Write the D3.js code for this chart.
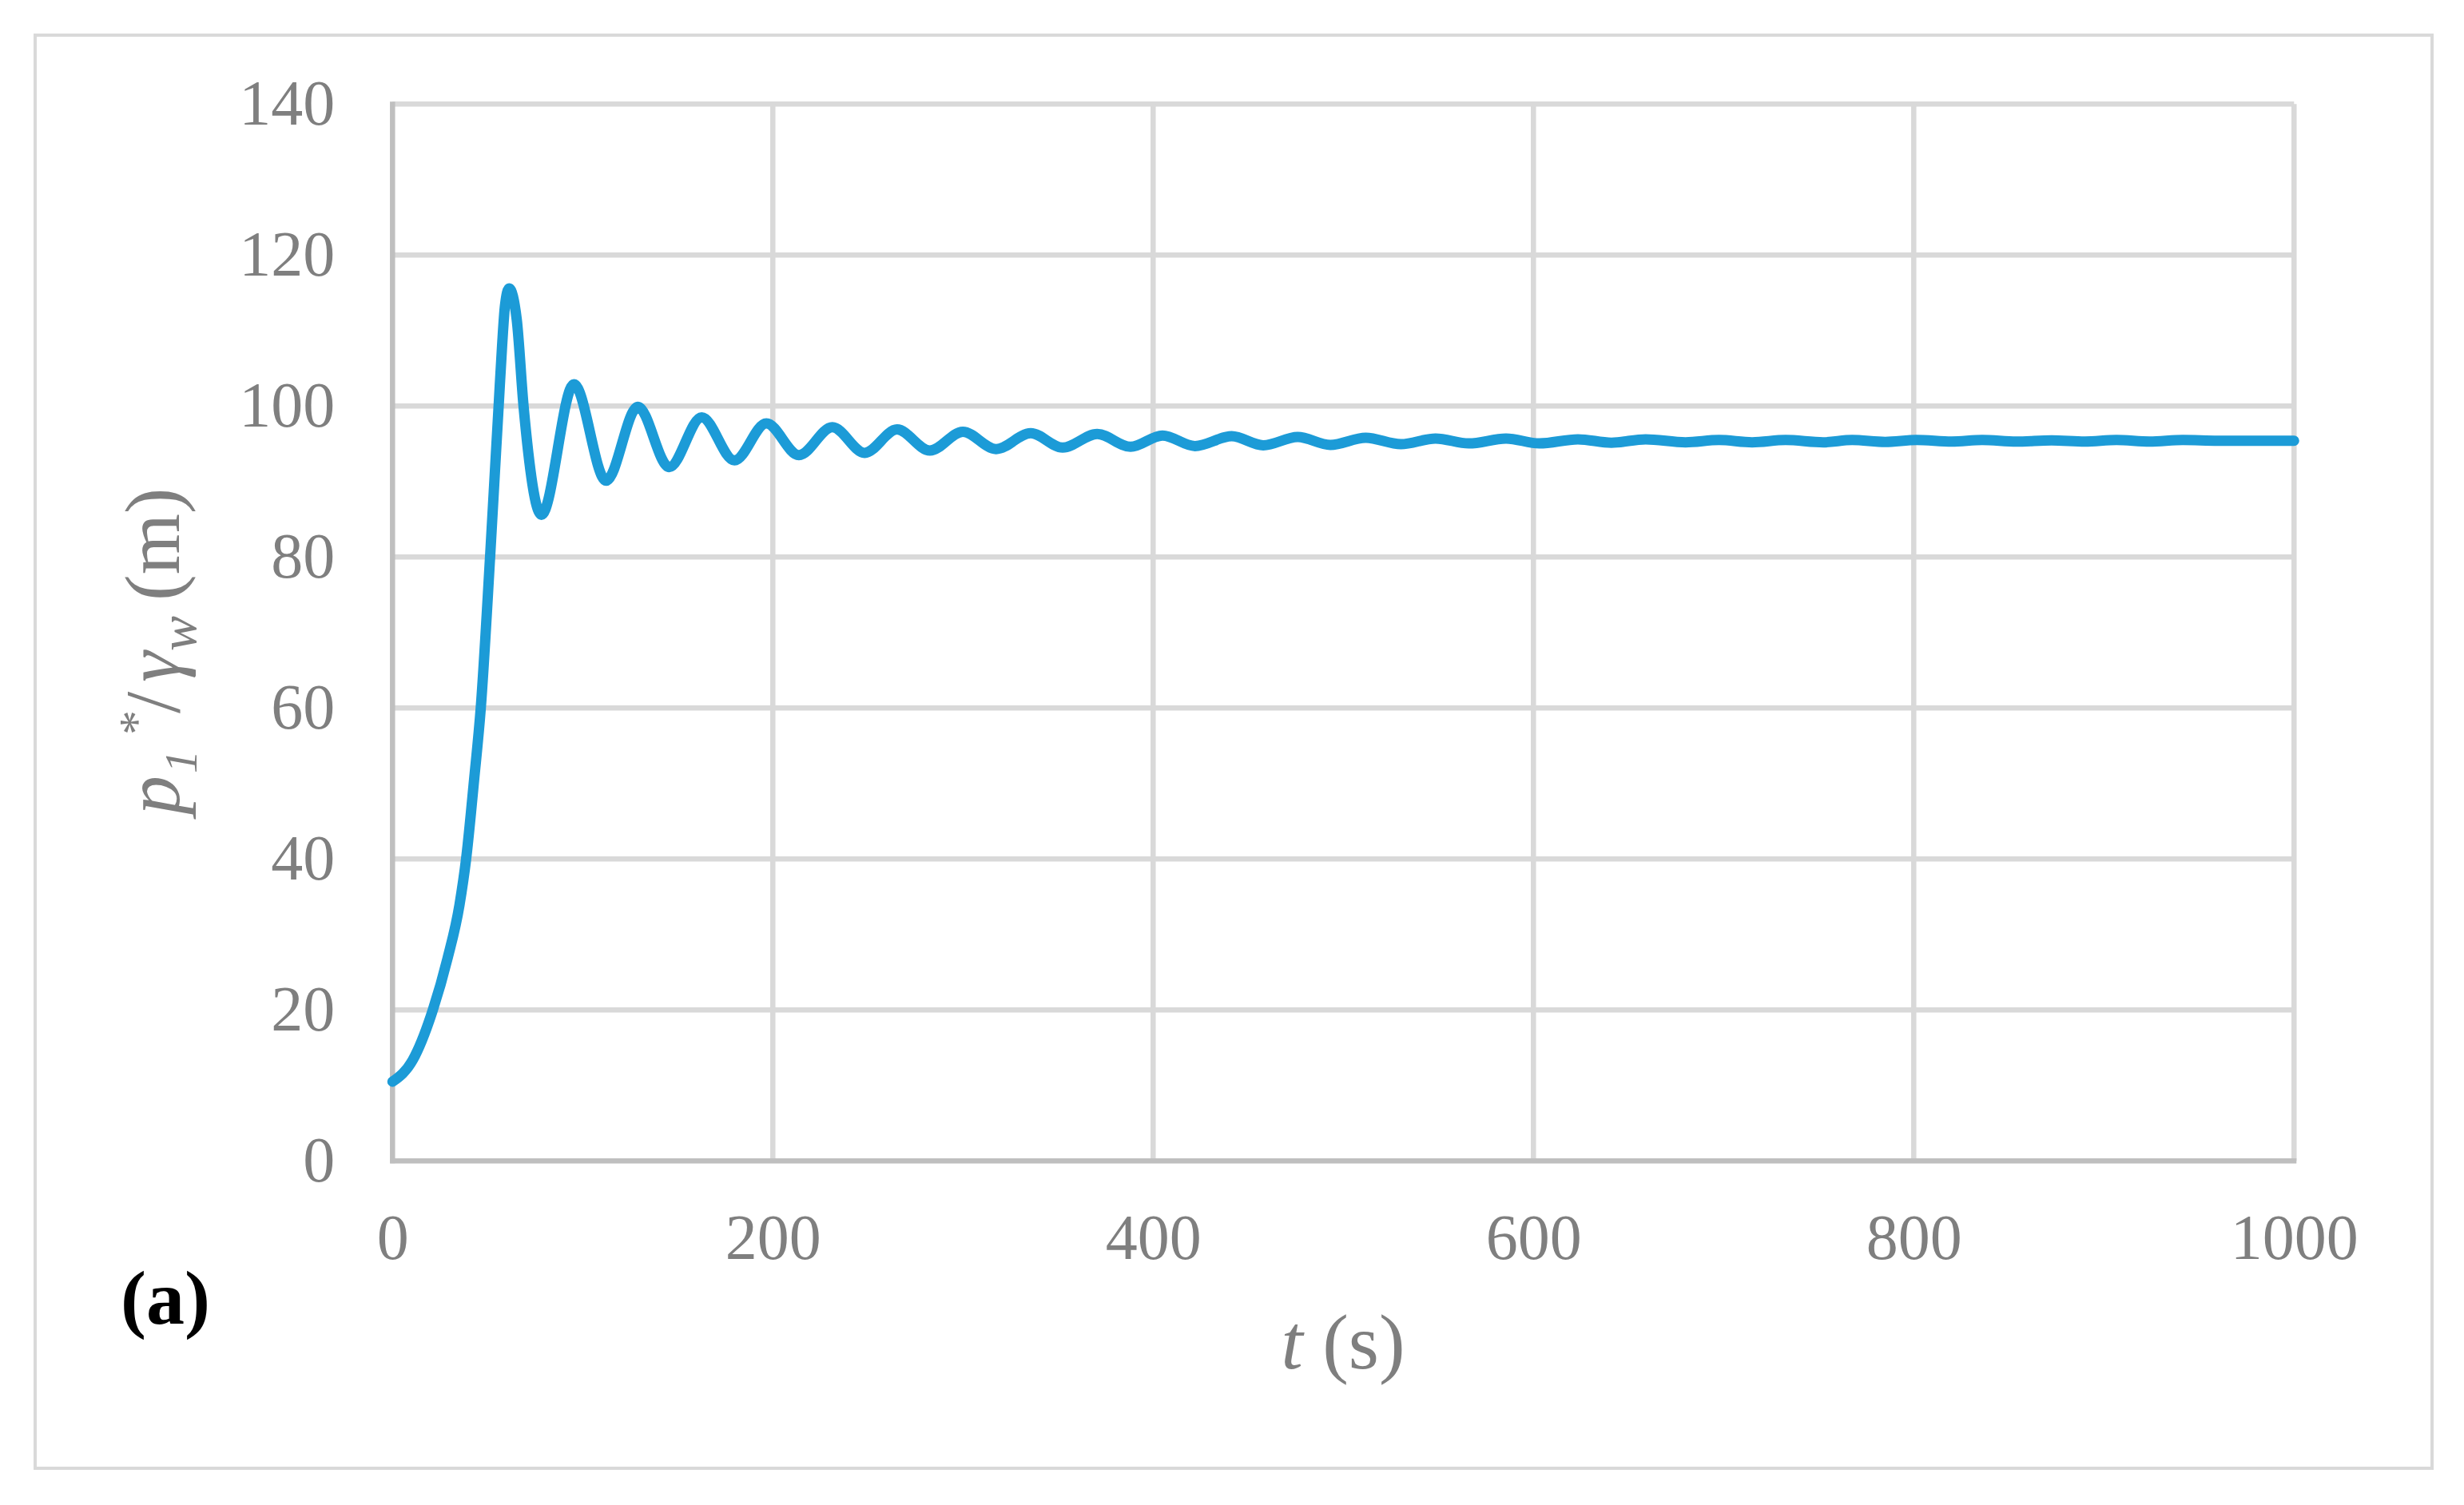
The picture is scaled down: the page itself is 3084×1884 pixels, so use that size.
<!DOCTYPE html>
<html>
<head>
<meta charset="utf-8">
<script src="https://cdn.jsdelivr.net/npm/d3@7"></script>
<style>
  html, body { margin: 0; padding: 0; background: #ffffff; }
  svg { display: block; }
</style>
</head>
<body>
<svg id="chart" width="3084" height="1884"></svg>
<script>
// ---- data ----
const timeS = [0, 10.7, 21.2, 28.9, 35.2, 38.7, 42.9, 46.4, 51.3, 54.4, 55.8, 57.6, 59.1, 61.3,
  65.3, 68.9, 78.3, 95.4, 112.3, 129.0, 145.5, 162.6, 179.8, 196.6, 213.7,
  231.3, 248.3, 265.3, 282.6, 299.9, 317.4, 335.6, 352.4, 370.6, 388.1, 404.9, 422.0,
  441.3, 457.9, 476.0, 493.2, 511.8, 530.3, 548.5, 566.0, 585.6, 603.1, 623.4, 641.0,
  659.0, 680.0, 697.6, 715.0, 732.6, 752.4, 767.6, 785.0, 801.5, 820.0, 836.0, 854.0,
  872.5, 890.0, 906.6, 924.0, 941.5, 960.0, 1000.0];
const headM = [10.5, 13.4, 20.0, 26.8, 33.9, 40.0, 50.5, 60.0, 80.0, 93.8, 100.0, 107.9, 113.2, 115.6,
  111.5, 100.0, 85.6, 102.9, 90.1, 99.9, 91.9, 98.5, 92.8, 97.7, 93.5,
  97.2, 93.8, 96.9, 94.1, 96.6, 94.3, 96.4, 94.5, 96.3, 94.6, 96.1, 94.7,
  96.0, 94.8, 95.9, 94.85, 95.8, 94.95, 95.7, 95.05, 95.7, 95.05, 95.6, 95.15,
  95.6, 95.2, 95.5, 95.2, 95.5, 95.2, 95.5, 95.25, 95.5, 95.3, 95.5, 95.3,
  95.45, 95.3, 95.5, 95.3, 95.5, 95.4, 95.4];
const xTicks = [0, 200, 400, 600, 800, 1000];
const yTicks = [0, 20, 40, 60, 80, 100, 120, 140];
const xDomain = [0, 1000];
const yDomain = [0, 140];

// ---- layout ----
const W = 3084, H = 1884;
const margin = { left: 491.3, top: 130.3, right: W - 2871.3, bottom: H - 1453.3 };
const width = W - margin.left - margin.right;
const height = H - margin.top - margin.bottom;
const serif = '"Liberation Serif", "Times New Roman", serif';
const gray = '#7f7f7f';

const svg = d3.select('#chart');
svg.append('rect').attr('x', 0).attr('y', 0).attr('width', W).attr('height', H).attr('fill', '#fff');
// outer frame
svg.append('rect').attr('x', 44).attr('y', 44).attr('width', 3000).attr('height', 1794)
  .attr('fill', 'none').attr('stroke', '#d9d9d9').attr('stroke-width', 4);

const g = svg.append('g').attr('transform', `translate(${margin.left},${margin.top})`);

const x = d3.scaleLinear().domain(xDomain).range([0, width]);
const y = d3.scaleLinear().domain(yDomain).range([height, 0]);

// gridlines
g.append('g').selectAll('line').data(yTicks.filter(d => d !== 0)).join('line')
  .attr('x1', 0).attr('x2', width)
  .attr('y1', d => y(d)).attr('y2', d => y(d))
  .attr('stroke', '#d9d9d9').attr('stroke-width', 6.5);
g.append('g').selectAll('line').data(xTicks.filter(d => d !== 0)).join('line')
  .attr('y1', 0).attr('y2', height)
  .attr('x1', d => x(d)).attr('x2', d => x(d))
  .attr('stroke', '#d9d9d9').attr('stroke-width', 6.5);

// axis lines
g.append('line').attr('x1', x(0)).attr('x2', x(0)).attr('y1', y(140) - 3).attr('y2', y(0) + 3)
  .attr('stroke', '#bfbfbf').attr('stroke-width', 6.5);
g.append('line').attr('x1', x(0) - 3).attr('x2', x(1000) + 3).attr('y1', y(0)).attr('y2', y(0))
  .attr('stroke', '#bfbfbf').attr('stroke-width', 6.5);

// tick labels via axes
const yAxis = g.append('g').call(d3.axisLeft(y).tickValues(yTicks).tickSize(0).tickPadding(72).tickFormat(d3.format('d')));
const xAxis = g.append('g').attr('transform', `translate(0,${height})`)
  .call(d3.axisBottom(x).tickValues(xTicks).tickSize(0).tickPadding(66).tickFormat(d3.format('d')));
[yAxis, xAxis].forEach(a => {
  a.select('.domain').remove();
  a.selectAll('text').attr('font-family', serif).attr('font-size', 80).attr('fill', gray);
});

// data line
const pts = timeS.map((t, i) => [t, headM[i]]);
const line = d3.line().x(d => x(d[0])).y(d => y(d[1])).curve(d3.curveMonotoneX);
g.append('path').datum(pts).attr('d', line)
  .attr('fill', 'none').attr('stroke', '#1c9bd7').attr('stroke-width', 13)
  .attr('stroke-linejoin', 'round').attr('stroke-linecap', 'round');

// x axis title
const xt = svg.append('text').attr('x', 1681).attr('y', 1713)
  .attr('text-anchor', 'middle').attr('font-family', serif).attr('font-size', 98).attr('fill', gray);
xt.append('tspan').attr('font-style', 'italic').text('t');
xt.append('tspan').text(' (s)');

// y axis title (rotated)
const yt = svg.append('text').attr('transform', 'translate(224,1020) rotate(-90)')
  .attr('font-family', serif).attr('font-size', 98).attr('fill', gray);
yt.append('tspan').attr('x', 0).attr('y', 0).attr('font-style', 'italic').text('p');
yt.append('tspan').attr('x', 52).attr('y', 22).attr('font-style', 'italic').attr('font-size', 58).text('1');
yt.append('tspan').attr('x', 100).attr('y', -33).attr('font-size', 62).text('*');
yt.append('tspan').attr('x', 127).attr('y', 0).text('/');
yt.append('tspan').attr('x', 166).attr('y', 0).attr('font-style', 'italic').text('γ');
yt.append('tspan').attr('x', 205).attr('y', 21).attr('font-style', 'italic').attr('font-size', 66).text('w');
yt.append('tspan').attr('x', 268).attr('y', 0).text('(m)');

// panel label
svg.append('text').attr('x', 151).attr('y', 1657).attr('font-family', serif)
  .attr('font-size', 96).attr('font-weight', 'bold').attr('fill', '#000').text('(a)');
</script>
</body>
</html>
